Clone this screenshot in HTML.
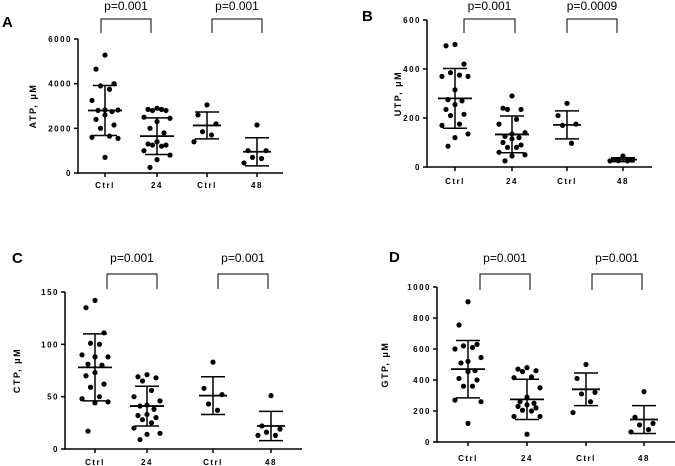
<!DOCTYPE html>
<html><head><meta charset="utf-8"><style>
body{margin:0;background:#fff;width:675px;height:466px;overflow:hidden}
svg{display:block;font-family:"Liberation Sans",sans-serif}
.tk{font-size:8px;font-weight:bold;letter-spacing:1.5px}
.yt{font-size:9px;font-weight:bold;letter-spacing:1.5px}
.pl{font-size:12px}
.lt{font-size:15px;font-weight:bold}
</style></head><body>
<svg id="fig" width="675" height="466"></svg>
<script>
const categories = ["Ctrl","24","Ctrl","48"];
const pLabels = [["p=0.001","p=0.001"],["p=0.001","p=0.0009"],["p=0.001","p=0.001"],["p=0.001","p=0.001"]];
const panelTitles = ["ATP, μM","UTP, μM","CTP, μM","GTP, μM"];
const panelLetters = ["A","B","C","D"];
const ticksA = [0,2000,4000,6000];
const ticksB = [0,200,400,600];
const ticksC = [0,50,100,150];
const ticksD = [0,200,400,600,800,1000];
const atpValues = [
 [5280,4650,4000,3900,3750,3250,2820,2820,2800,2750,2600,2400,2150,2000,1650,1600,1550,700],
 [2900,2850,2800,2800,2850,2500,2450,2300,2000,1800,1400,1300,1250,1250,1200,1000,800,600,250],
 [3050,2600,2200,1850,1700,1400],
 [2150,1000,1000,700,650,450]];
const atpMean = [2800,1650,2130,950];
const atpSd = [1120,820,600,630];
const utpValues = [
 [500,495,420,385,375,370,370,315,275,270,255,235,215,210,175,170,135,120,85],
 [290,240,235,235,195,175,140,135,125,120,115,100,90,80,80,60,50,45,25],
 [260,210,175,170,97],
 [45,30,28,26,25,25]];
const utpMean = [280,133,172,30];
const utpSd = [122,75,57,8];
const ctpValues = [
 [142,135,111,101,100,90,88,88,81,80,73,70,62,59,50,48,45,44,17],
 [71,69,68,65,56,50,46,42,41,38,33,32,30,28,25,20,15,14,9],
 [83,58,52,43,37],
 [51,22,19,16,13,13]];
const ctpMean = [78,41,51,22];
const ctpSd = [32,19,18,14];
const gtpValues = [
 [905,755,630,620,610,600,545,520,510,460,455,410,400,360,360,270,260,120],
 [480,470,460,455,420,415,350,290,260,250,240,230,220,205,200,165,165,50],
 [500,410,320,310,260,190],
 [325,160,120,110,80,65]];
const gtpMean = [470,275,340,145];
const gtpSd = [185,130,105,90];

const NS="http://www.w3.org/2000/svg";
const svg=document.getElementById('fig');
function mk(tag,attrs,parent,text){const e=document.createElementNS(NS,tag);for(const k in attrs)e.setAttribute(k,attrs[k]);if(text!==undefined)e.textContent=text;(parent||svg).appendChild(e);return e;}

const layouts=[
 {ax:78,y0:173,yTop:39,x1:283,cx:[105,157,207,257],brT:19,brB:33,br:[[101,151],[212,262]],pY:10,lx:2,ly:27,tx:36,lblY:188},
 {ax:427,y0:167,yTop:20,x1:652,cx:[455,512,567,623],brT:19,brB:33,br:[[464,515],[567,617]],pY:10,lx:362,ly:21,tx:401,lblY:184},
 {ax:65,y0:449,yTop:292,x1:302,cx:[95,147,213,271],brT:274,brB:289,br:[[107,157],[218,268]],pY:262,lx:12,ly:263,tx:20,lblY:465},
 {ax:437,y0:442,yTop:287,x1:675,cx:[468,527,586,644],brT:274,brB:290,br:[[480,530],[592,642]],pY:262,lx:389,ly:262,tx:388,lblY:461}];
const panels=[[atpValues,atpMean,atpSd,ticksA],[utpValues,utpMean,utpSd,ticksB],[ctpValues,ctpMean,ctpSd,ticksC],[gtpValues,gtpMean,gtpSd,ticksD]];
const names=["atp","utp","ctp","gtp"];
const jit=[0,-9,9,-4.5,4.5,-13,13,0,-7,7];

panels.forEach((p,pi)=>{
 const [vals,means,sds,ticks]=p;const L=layouts[pi];
 const g=mk('g',{});
 
 
 const yMax=ticks[ticks.length-1];
 const y=v=>L.y0-(v/yMax)*(L.y0-L.yTop);
 const lt=mk('text',{x:L.lx,y:L.ly,class:'lt'},g,panelLetters[pi]);
 
 
 const ya=mk('line',{x1:L.ax,x2:L.ax,y1:L.yTop,y2:L.y0+0.75,stroke:'#000','stroke-width':1.5},g);
 
 
 const xa=mk('line',{x1:L.ax-0.75,x2:L.x1,y1:L.y0,y2:L.y0,stroke:'#000','stroke-width':1.5},g);
 
 
 ticks.forEach(t=>{
  mk('line',{x1:L.ax-4,x2:L.ax,y1:y(t),y2:y(t),stroke:'#000','stroke-width':1.5},g);
  const tl=mk('text',{x:L.ax-6,y:y(t)+3,class:'tk','text-anchor':'end'},g,t);
  
  
 });
 const ty=(L.yTop+L.y0)/2;
 const tt=mk('text',{x:L.tx,y:ty,class:'yt','text-anchor':'middle',transform:`rotate(-90 ${L.tx} ${ty})`},g,panelTitles[pi]);
 
 
 categories.forEach((c,ci)=>{
  const cx=L.cx[ci];
  mk('line',{x1:cx,x2:cx,y1:L.y0,y2:L.y0+4,stroke:'#000','stroke-width':1.5},g);
  const cl=mk('text',{x:cx,y:L.lblY,class:'tk','text-anchor':'middle'},g,c);
  
  
  vals[ci].forEach((v,i)=>{
   const off=jit[i%jit.length];
   const d=mk('circle',{cx:cx+off,cy:y(v),r:2.6,fill:'#000'},g);
   
   
  });
  const hw=vals[ci].length>10?17:14;
  const m=mk('line',{x1:cx-hw,x2:cx+hw,y1:y(means[ci]),y2:y(means[ci]),stroke:'#000','stroke-width':1.8},g);
  
  
  const lo=Math.max(0,means[ci]-sds[ci]),hi=means[ci]+sds[ci];
  const e=mk('path',{d:`M${cx},${y(lo)}V${y(hi)}M${cx-12},${y(lo)}H${cx+12}M${cx-12},${y(hi)}H${cx+12}`,stroke:'#000','stroke-width':1.5,fill:'none'},g);
  
  
 });
 L.br.forEach((b,bi)=>{
  const br=mk('path',{d:`M${b[0]},${L.brB}V${L.brT}H${b[1]}V${L.brB}`,stroke:'#000','stroke-width':1,fill:'none'},g);
  
  
  const pt=mk('text',{x:(b[0]+b[1])/2,y:L.pY,class:'pl','text-anchor':'middle'},g,pLabels[pi][bi]);
  
  
 });
});
</script>
</body></html>
